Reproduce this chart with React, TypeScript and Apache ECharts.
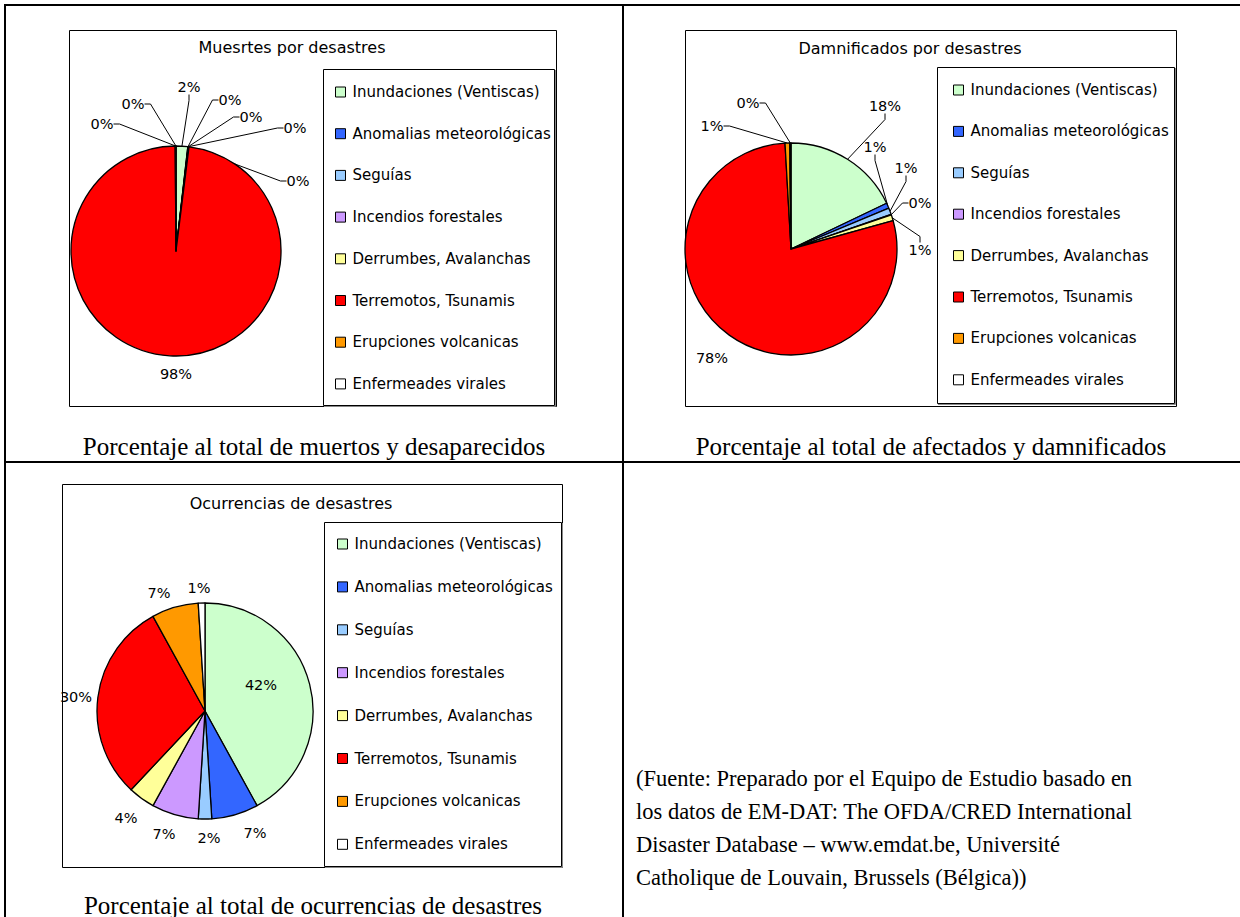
import React, { useEffect, useRef } from 'react';
import * as echarts from 'echarts';

const CATEGORIES = [
  'Inundaciones (Ventiscas)',
  'Anomalias meteorológicas',
  'Seguías',
  'Incendios forestales',
  'Derrumbes, Avalanchas',
  'Terremotos, Tsunamis',
  'Erupciones volcanicas',
  'Enfermeades virales',
];
const COLORS = ['#CCFFCC', '#3366FF', '#99CCFF', '#CC99FF', '#FFFF99', '#FF0000', '#FF9900', '#FFFFFF'];

// percentage shares
const MUERTOS = [1.8, 0.05, 0.02, 0.01, 0.1, 97.9, 0.1, 0.02];
const DAMNIFICADOS = [17.9, 0.8, 1.0, 0.1, 0.9, 78.4, 0.7, 0.2];
const OCURRENCIAS = [42, 7, 2, 7, 4, 30, 7, 1];

const TITLES = ['Muesrtes por desastres', 'Damnificados por desastres', 'Ocurrencias de desastres'];
const CAPTIONS = [
  'Porcentaje al total de muertos y desaparecidos',
  'Porcentaje al total de afectados y damnificados',
  'Porcentaje al total de ocurrencias de desastres',
];
const SOURCE_LINES = [
  '(Fuente: Preparado por el Equipo de Estudio basado en',
  'los datos de EM-DAT: The OFDA/CRED International',
  'Disaster Database – www.emdat.be, Université',
  'Catholique de Louvain, Brussels (Bélgica))',
];

// ---- layout (positions / sizes only) ----
const PIES = [
  { center: [176, 251], r: 105 },
  { center: [791, 249], r: 106 },
  { center: [205, 711], r: 108 },
];
const LABEL_POS = [
  [[189, 87], [230, 100], [251, 117], [295, 128], [298, 181], [176, 374], [102, 124], [133, 104]],
  [[885, 106], [875, 147], [906, 168], [920, 203], [920, 250], [712, 358], [712, 126], [748, 103]],
  [[261, 685], [255, 833], [209, 838], [164, 834], [126, 818], [76, 697], [159, 593], [199, 588]],
];
const FRAMES = [
  { x: 69, y: 30, w: 487, h: 376 },
  { x: 685, y: 30, w: 491, h: 376 },
  { x: 62, y: 484, w: 500, h: 383 },
];
const LEGEND_BOXES = [
  { x: 323, y: 69, w: 231, h: 336 },
  { x: 937, y: 67, w: 237, h: 336 },
  { x: 324, y: 522, w: 237, h: 344 },
];
const LEGENDS = [
  { left: 335, top: 84, gap: 25.7 },
  { left: 953, top: 82, gap: 25.4 },
  { left: 337, top: 536, gap: 26.9 },
];
const TITLE_POS = [[292, 47], [910, 48], [291, 503]];
const CAPTION_POS = [[314, 446], [931, 446], [313, 905]];

const SANS = '"DejaVu Sans", "Noto Sans", sans-serif';
const SERIF = '"Liberation Serif", "Times New Roman", serif';

export default function App() {
  const ref = useRef<HTMLDivElement>(null);

  useEffect(() => {
    if (!ref.current) return;
    const chart = echarts.init(ref.current, null, { renderer: 'svg' });
    const datasets = [MUERTOS, DAMNIFICADOS, OCURRENCIAS];

    const series = datasets.map((vals, s) => ({
      type: 'pie',
      name: TITLES[s],
      center: PIES[s].center,
      radius: PIES[s].r,
      startAngle: 90,
      clockwise: true,
      avoidLabelOverlap: false,
      z: 3,
      data: vals.map((v, i) => ({
        name: CATEGORIES[i],
        value: v,
        itemStyle: { color: COLORS[i] },
        labelLine: { show: s !== 2 && i !== 5 },
      })),
      itemStyle: { borderColor: '#000', borderWidth: 1.3 },
      label: {
        show: true,
        position: 'outside',
        formatter: (p: any) => Math.round(p.percent) + '%',
        fontSize: 14.5,
        lineHeight: 14,
        fontFamily: SANS,
        color: '#000',
      },
      labelLine: { show: s !== 2, length: 10, length2: 6, lineStyle: { color: '#000', width: 1 } },
      labelLayout: (p: any) => {
        const pos = LABEL_POS[s][p.dataIndex];
        return { x: pos[0], y: pos[1], align: 'center', verticalAlign: 'middle' };
      },
      emphasis: { disabled: true },
    }));

    const legends = LEGENDS.map((l) => ({
      orient: 'vertical',
      left: l.left,
      top: l.top,
      padding: 0,
      itemGap: l.gap,
      itemWidth: 10,
      itemHeight: 10,
      icon: 'rect',
      selectedMode: false,
      data: CATEGORIES,
      itemStyle: { borderColor: '#000', borderWidth: 1 },
      textStyle: { fontSize: 15, fontFamily: SANS, color: '#000', lineHeight: 16, padding: [0, 0, 0, 2] },
    }));

    const graphics: any[] = [];
    // table grid
    const tl = { stroke: '#000', lineWidth: 2 };
    graphics.push({ type: 'line', shape: { x1: 4, y1: 5, x2: 1240, y2: 5 }, style: tl });
    graphics.push({ type: 'line', shape: { x1: 5, y1: 4, x2: 5, y2: 917 }, style: tl });
    graphics.push({ type: 'line', shape: { x1: 623, y1: 4, x2: 623, y2: 917 }, style: tl });
    graphics.push({ type: 'line', shape: { x1: 4, y1: 462, x2: 1240, y2: 462 }, style: tl });

    FRAMES.forEach((f) => {
      graphics.push({
        type: 'rect',
        z: 1,
        shape: { x: f.x + 0.5, y: f.y + 0.5, width: f.w, height: f.h },
        style: { fill: 'none', stroke: '#000', lineWidth: 1 },
      });
    });
    LEGEND_BOXES.forEach((b) => {
      graphics.push({
        type: 'polyline',
        z: 1,
        shape: { points: [[b.x + b.w + 1.5, b.y + 1], [b.x + b.w + 1.5, b.y + b.h + 1.5], [b.x + 1, b.y + b.h + 1.5]] },
        style: { fill: 'none', stroke: '#888', lineWidth: 1 },
      });
      graphics.push({
        type: 'rect',
        z: 1,
        shape: { x: b.x + 0.5, y: b.y + 0.5, width: b.w, height: b.h },
        style: { fill: 'none', stroke: '#000', lineWidth: 1 },
      });
    });
    TITLES.forEach((t, i) => {
      graphics.push({
        type: 'text',
        z: 2,
        x: TITLE_POS[i][0],
        y: TITLE_POS[i][1],
        style: { text: t, fill: '#000', font: `16px ${SANS}`, textAlign: 'center', textVerticalAlign: 'middle' },
      });
    });
    CAPTIONS.forEach((t, i) => {
      graphics.push({
        type: 'text',
        z: 2,
        x: CAPTION_POS[i][0],
        y: CAPTION_POS[i][1],
        style: { text: t, fill: '#000', font: `25px ${SERIF}`, textAlign: 'center', textVerticalAlign: 'middle' },
      });
    });
    SOURCE_LINES.forEach((t, i) => {
      graphics.push({
        type: 'text',
        z: 2,
        x: 636,
        y: 778 + i * 33,
        style: { text: t, fill: '#000', font: `22.5px ${SERIF}`, textAlign: 'left', textVerticalAlign: 'middle' },
      });
    });

    chart.setOption({
      animation: false,
      backgroundColor: '#fff',
      color: COLORS,
      legend: legends,
      series,
      graphic: { elements: graphics },
    });

    return () => chart.dispose();
  }, []);

  return (
    <div
      ref={ref}
      style={{ position: 'absolute', left: 0, top: 0, width: 1240, height: 917 }}
    />
  );
}
